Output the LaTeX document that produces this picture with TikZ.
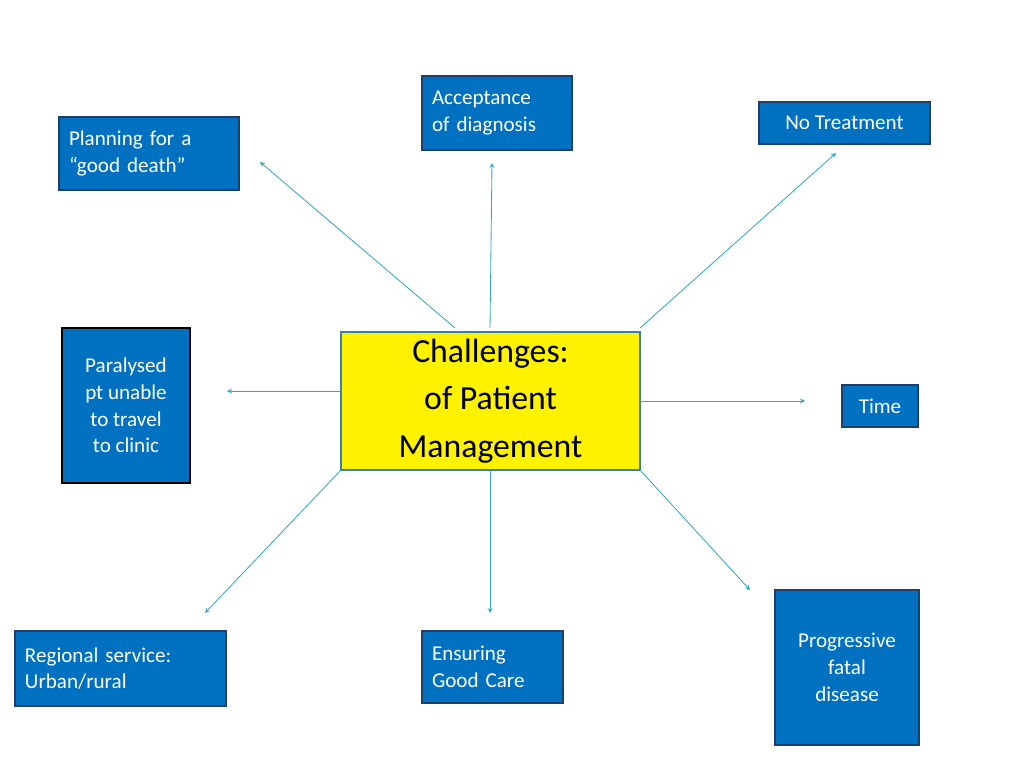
\documentclass[tikz,border=0pt]{standalone}
\usepackage{fontspec}
\setmainfont{Carlito}
\definecolor{boxblue}{HTML}{0070C0}
\definecolor{boxedge}{HTML}{1F3F6B}
\definecolor{linkteal}{HTML}{35A5C2}
\definecolor{hubedge}{HTML}{3A7FA8}
\tikzset{
  topic/.style={draw=boxedge, fill=boxblue, text=white, line width=0.8pt,
    font=\fontsize{15}{19}\selectfont, inner sep=0pt, anchor=center},
  hub/.style={draw=hubedge, fill=yellow, line width=1.2pt,
    font=\fontsize{24}{34}\selectfont, align=center, inner sep=0pt},
  link/.style={->, >=stealth, draw=linkteal, line width=0.6pt}
}
\begin{document}
\begin{tikzpicture}[x=0.25mm,y=-0.25mm]
\useasboundingbox (0,0) rectangle (1024,768);

% central node
\node[hub, minimum width=299*0.25mm, minimum height=138*0.25mm] (hub) at (490.5,401)
  {Challenges:\\of Patient\\Management};

% outer boxes
\node[topic, minimum width=150*0.25mm, minimum height=74*0.25mm, align=left, text width=130*0.25mm] (accept) at (497,113) {Acceptance\\of diagnosis};
\node[topic, minimum width=171*0.25mm, minimum height=42*0.25mm, align=center] (notreat) at (844.5,123) {No Treatment};
\node[topic, minimum width=180*0.25mm, minimum height=73*0.25mm, align=left, text width=160*0.25mm] (plan) at (149,153.5) {Planning for a\\“good death”};
\node[topic, draw=black, line width=1.4pt, minimum width=128*0.25mm, minimum height=155*0.25mm, align=center] (para) at (126,405.5) {Paralysed\\pt unable\\to travel\\to clinic};
\node[topic, minimum width=76*0.25mm, minimum height=42*0.25mm, align=center] (time) at (880,406) {Time};
\node[topic, minimum width=211*0.25mm, minimum height=75*0.25mm, align=left, text width=191*0.25mm] (region) at (120.5,668.5) {Regional service:\\Urban/rural};
\node[topic, minimum width=141*0.25mm, minimum height=72*0.25mm, align=left, text width=121*0.25mm] (ensure) at (492.5,667) {Ensuring\\Good Care};
\node[topic, minimum width=144*0.25mm, minimum height=155*0.25mm, align=center] (progress) at (847,667.5) {Progressive\\fatal\\disease};

% arrow ends
\coordinate (s1) at (455,328); \coordinate (e1) at (260,162);
\coordinate (s2) at (490,328); \coordinate (e2) at (492,163);
\coordinate (s3) at (640,328); \coordinate (e3) at (836,153);
\coordinate (s4) at (341,391); \coordinate (e4) at (227,391);
\coordinate (s5) at (640,401); \coordinate (e5) at (805,401);
\coordinate (s6) at (341,470); \coordinate (e6) at (205,613);
\coordinate (s7) at (490,470); \coordinate (e7) at (490,613);
\coordinate (s8) at (640,470); \coordinate (e8) at (750,590);

\foreach \i in {1,...,8}
  \draw[link] (s\i) -- (e\i);
\end{tikzpicture}
\end{document}
